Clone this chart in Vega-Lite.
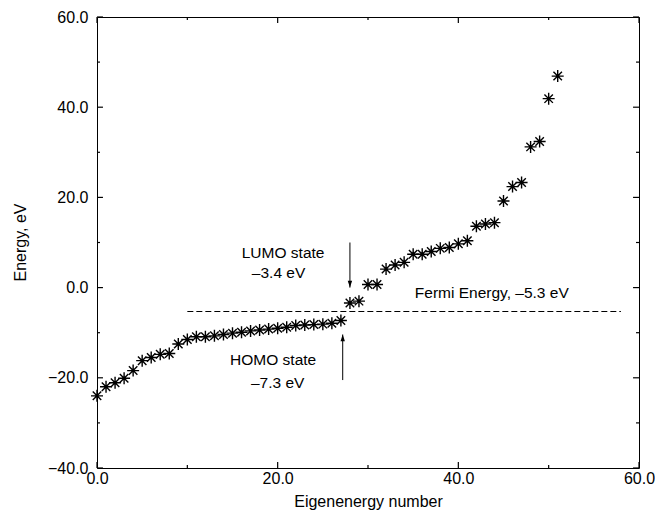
{
  "$schema": "https://vega.github.io/schema/vega-lite/v6.json",
  "width": 542,
  "height": 451,
  "autosize": "none",
  "padding": {"left": 97, "top": 17, "right": 16, "bottom": 44},
  "background": "white",
  "config": {
    "font": "Liberation Sans",
    "view": {"stroke": "black", "strokeWidth": 1},
    "axis": {
      "grid": false,
      "domainColor": "black",
      "domainWidth": 1,
      "labelFont": "Liberation Sans",
      "labelFontSize": 16,
      "labelColor": "black",
      "titleFont": "Liberation Sans",
      "titleFontSize": 16,
      "titleFontWeight": "normal",
      "titleColor": "black"
    }
  },
  "datasets": {
    "levels": [
      {"n": 0, "energy": -24.0}, {"n": 1, "energy": -22.0}, {"n": 2, "energy": -21.1}, {"n": 3, "energy": -20.1},
      {"n": 4, "energy": -18.4}, {"n": 5, "energy": -16.2}, {"n": 6, "energy": -15.5}, {"n": 7, "energy": -14.8},
      {"n": 8, "energy": -14.6}, {"n": 9, "energy": -12.5}, {"n": 10, "energy": -11.5}, {"n": 11, "energy": -10.9},
      {"n": 12, "energy": -10.9}, {"n": 13, "energy": -10.7}, {"n": 14, "energy": -10.4}, {"n": 15, "energy": -10.1},
      {"n": 16, "energy": -9.9}, {"n": 17, "energy": -9.6}, {"n": 18, "energy": -9.4}, {"n": 19, "energy": -9.2},
      {"n": 20, "energy": -9.0}, {"n": 21, "energy": -8.8}, {"n": 22, "energy": -8.4}, {"n": 23, "energy": -8.3},
      {"n": 24, "energy": -8.2}, {"n": 25, "energy": -8.1}, {"n": 26, "energy": -7.9}, {"n": 27, "energy": -7.3},
      {"n": 28, "energy": -3.4}, {"n": 29, "energy": -3.0}, {"n": 30, "energy": 0.7}, {"n": 31, "energy": 0.7},
      {"n": 32, "energy": 4.1}, {"n": 33, "energy": 5.0}, {"n": 34, "energy": 5.6}, {"n": 35, "energy": 7.4},
      {"n": 36, "energy": 7.4}, {"n": 37, "energy": 8.0}, {"n": 38, "energy": 8.7}, {"n": 39, "energy": 8.9},
      {"n": 40, "energy": 9.7}, {"n": 41, "energy": 10.4}, {"n": 42, "energy": 13.6}, {"n": 43, "energy": 14.1},
      {"n": 44, "energy": 14.4}, {"n": 45, "energy": 19.2}, {"n": 46, "energy": 22.4}, {"n": 47, "energy": 23.3},
      {"n": 48, "energy": 31.2}, {"n": 49, "energy": 32.4}, {"n": 50, "energy": 41.9}, {"n": 51, "energy": 46.9}
    ],
    "fermi": [{"n": 10, "energy": -5.3}, {"n": 58, "energy": -5.3}],
    "arrows": [
      {"n": 28, "start": 10.0, "tip": 0.0, "dir": "down"},
      {"n": 27.2, "start": -20.5, "tip": -10.4, "dir": "up"}
    ],
    "notes": [
      {"n": 20.6, "energy": 7.7, "text": "LUMO state"},
      {"n": 20.1, "energy": 3.2, "text": "–3.4 eV"},
      {"n": 19.5, "energy": -16.0, "text": "HOMO state"},
      {"n": 20.0, "energy": -21.2, "text": "–7.3 eV"},
      {"n": 43.7, "energy": -1.2, "text": "Fermi Energy, –5.3 eV"}
    ],
    "xmajor": [{"v": 0}, {"v": 20}, {"v": 40}, {"v": 60}],
    "xminor": [{"v": 10}, {"v": 30}, {"v": 50}],
    "ymajor": [{"v": -40}, {"v": -20}, {"v": 0}, {"v": 20}, {"v": 40}, {"v": 60}],
    "yminor": [{"v": -30}, {"v": -10}, {"v": 10}, {"v": 30}, {"v": 50}]
  },
  "resolve": {"axis": {"x": "independent", "y": "independent"}},
  "layer": [
    {
      "data": {"name": "fermi"},
      "mark": {"type": "line", "color": "black", "strokeWidth": 1, "strokeDash": [6, 3]},
      "encoding": {
        "x": {
          "field": "n", "type": "quantitative",
          "scale": {"domain": [0, 60], "nice": false, "zero": false},
          "axis": {
            "orient": "bottom",
            "title": "Eigenenergy number",
            "values": [0, 20, 40, 60],
            "format": ".1f",
            "ticks": false,
            "domain": false,
            "labelPadding": 2,
            "labelFlush": false,
            "titleX": 271,
            "titleY": 33,
            "titleBaseline": "middle",
            "titleAnchor": "middle"
          }
        },
        "y": {
          "field": "energy", "type": "quantitative",
          "scale": {"domain": [-40, 60], "nice": false, "zero": false},
          "axis": {
            "orient": "left",
            "title": "Energy, eV",
            "values": [-40, -20, 0, 20, 40, 60],
            "format": ".1f",
            "ticks": false,
            "domain": false,
            "labelPadding": 9,
            "labelFlush": false,
            "titleX": -77,
            "titleY": 225,
            "titleAngle": -90,
            "titleBaseline": "middle",
            "titleAlign": "center"
          }
        }
      }
    },
    {
      "data": {"name": "xmajor"},
      "mark": {"type": "rule", "color": "black", "strokeWidth": 1.2},
      "encoding": {
        "x": {"field": "v", "type": "quantitative", "axis": null},
        "y": {"datum": -40, "type": "quantitative", "axis": null},
        "y2": {"datum": -38.67}
      }
    },
    {
      "data": {"name": "xmajor"},
      "mark": {"type": "rule", "color": "black", "strokeWidth": 1.2},
      "encoding": {
        "x": {"field": "v", "type": "quantitative", "axis": null},
        "y": {"datum": 60, "type": "quantitative", "axis": null},
        "y2": {"datum": 58.67}
      }
    },
    {
      "data": {"name": "xminor"},
      "mark": {"type": "rule", "color": "black", "strokeWidth": 1.2},
      "encoding": {
        "x": {"field": "v", "type": "quantitative", "axis": null},
        "y": {"datum": -40, "type": "quantitative", "axis": null},
        "y2": {"datum": -39.33}
      }
    },
    {
      "data": {"name": "xminor"},
      "mark": {"type": "rule", "color": "black", "strokeWidth": 1.2},
      "encoding": {
        "x": {"field": "v", "type": "quantitative", "axis": null},
        "y": {"datum": 60, "type": "quantitative", "axis": null},
        "y2": {"datum": 59.33}
      }
    },
    {
      "data": {"name": "ymajor"},
      "mark": {"type": "rule", "color": "black", "strokeWidth": 1.2},
      "encoding": {
        "y": {"field": "v", "type": "quantitative", "axis": null},
        "x": {"datum": 0, "type": "quantitative", "axis": null},
        "x2": {"datum": 0.66}
      }
    },
    {
      "data": {"name": "ymajor"},
      "mark": {"type": "rule", "color": "black", "strokeWidth": 1.2},
      "encoding": {
        "y": {"field": "v", "type": "quantitative", "axis": null},
        "x": {"datum": 60, "type": "quantitative", "axis": null},
        "x2": {"datum": 59.34}
      }
    },
    {
      "data": {"name": "yminor"},
      "mark": {"type": "rule", "color": "black", "strokeWidth": 1.2},
      "encoding": {
        "y": {"field": "v", "type": "quantitative", "axis": null},
        "x": {"datum": 0, "type": "quantitative", "axis": null},
        "x2": {"datum": 0.33}
      }
    },
    {
      "data": {"name": "yminor"},
      "mark": {"type": "rule", "color": "black", "strokeWidth": 1.2},
      "encoding": {
        "y": {"field": "v", "type": "quantitative", "axis": null},
        "x": {"datum": 60, "type": "quantitative", "axis": null},
        "x2": {"datum": 59.67}
      }
    },
    {
      "data": {"name": "levels"},
      "mark": {
        "type": "point",
        "shape": "M-1,0L1,0M0,-1L0,1M-0.707,-0.707L0.707,0.707M-0.707,0.707L0.707,-0.707",
        "size": 144,
        "filled": false,
        "stroke": "black",
        "strokeWidth": 1.4,
        "opacity": 1
      },
      "encoding": {
        "x": {"field": "n", "type": "quantitative", "axis": null},
        "y": {"field": "energy", "type": "quantitative", "axis": null}
      }
    },
    {
      "data": {"name": "arrows"},
      "mark": {"type": "rule", "color": "black", "strokeWidth": 1},
      "encoding": {
        "x": {"field": "n", "type": "quantitative", "axis": null},
        "y": {"field": "start", "type": "quantitative", "axis": null},
        "y2": {"field": "tip"}
      }
    },
    {
      "data": {"name": "arrows"},
      "mark": {"type": "point", "filled": true, "color": "black", "size": 64, "opacity": 1},
      "encoding": {
        "x": {"field": "n", "type": "quantitative", "axis": null},
        "y": {"field": "tip", "type": "quantitative", "axis": null},
        "shape": {
          "field": "dir", "type": "nominal",
          "scale": {"domain": ["down", "up"], "range": ["M0,0L-0.55,-1.7L0.55,-1.7Z", "M0,0L-0.55,1.7L0.55,1.7Z"]},
          "legend": null
        }
      }
    },
    {
      "data": {"name": "notes"},
      "mark": {"type": "text", "font": "Liberation Sans", "fontSize": 15.5, "color": "black", "align": "center", "baseline": "middle"},
      "encoding": {
        "x": {"field": "n", "type": "quantitative", "axis": null},
        "y": {"field": "energy", "type": "quantitative", "axis": null},
        "text": {"field": "text"}
      }
    }
  ]
}
